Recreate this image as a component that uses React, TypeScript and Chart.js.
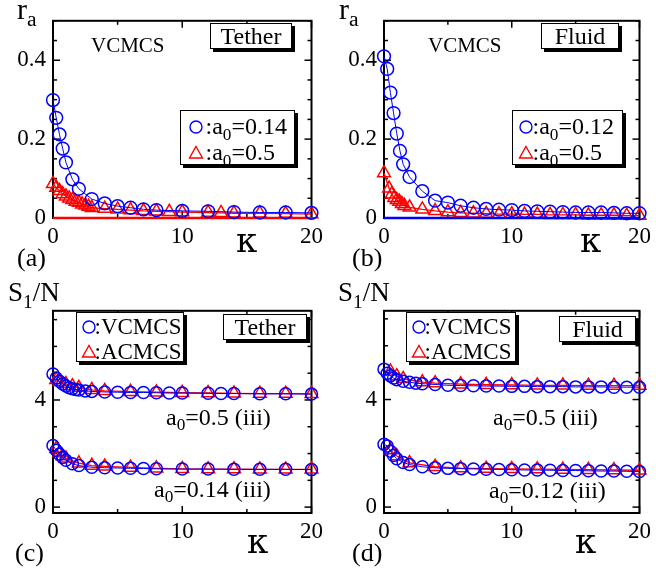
import React, { useEffect, useRef } from "react";
import { Chart, registerables } from "chart.js";

Chart.register(...registerables);

const SERIF = "'Liberation Serif', 'Times New Roman', Times, serif";
const KAPPA_FONT = "'DejaVu Serif', 'Liberation Serif', serif";
const BLUE = "#0000ff";
const RED = "#ff0000";

// tick labels
const kappaLabels = [0, 10, 20];
const raLabels = [0, 0.2, 0.4];
const s1Labels = [0, 4];

// (a) Tether, r_a
const aBlueX = [0, 0.25, 0.5, 0.75, 1, 1.5, 2, 3, 4, 5, 6, 7, 8, 10, 12, 14, 16, 18, 20];
const aBlueY = [0.299, 0.254, 0.212, 0.176, 0.141, 0.098, 0.074, 0.048, 0.037, 0.030, 0.026, 0.022, 0.020, 0.018, 0.017, 0.015, 0.014, 0.014, 0.013];
const aRedX = [0, 0.25, 0.5, 0.75, 1, 1.25, 1.5, 1.75, 2, 2.25, 2.5, 2.75, 3, 4, 5, 6, 7, 8, 9, 10, 12, 13, 14, 16, 18, 20];
const aRedY = [0.087, 0.077, 0.069, 0.061, 0.055, 0.050, 0.046, 0.042, 0.039, 0.035, 0.032, 0.029, 0.026, 0.024, 0.022, 0.020, 0.018, 0.017, 0.016, 0.015, 0.014, 0.013, 0.012, 0.012, 0.011, 0.010];

// (b) Fluid, r_a
const bBlueX = [0, 0.25, 0.5, 0.75, 1, 1.25, 1.5, 2, 3, 4, 5, 6, 7, 8, 9, 10, 11, 12, 13, 14, 15, 16, 17, 18, 19, 20];
const bBlueY = [0.410, 0.378, 0.318, 0.266, 0.214, 0.170, 0.136, 0.104, 0.068, 0.044, 0.039, 0.031, 0.026, 0.023, 0.021, 0.020, 0.018, 0.017, 0.016, 0.015, 0.014, 0.014, 0.014, 0.013, 0.012, 0.012];
const bRedX = [0, 0.4, 0.6, 0.8, 1, 1.2, 1.4, 1.6, 2, 3, 4, 5, 6, 7, 8, 9, 10, 11, 12, 13, 14, 15, 16, 17, 18, 19, 20];
const bRedY = [0.114, 0.075, 0.060, 0.051, 0.046, 0.042, 0.036, 0.031, 0.027, 0.022, 0.018, 0.015, 0.013, 0.012, 0.011, 0.010, 0.010, 0.009, 0.009, 0.008, 0.008, 0.008, 0.007, 0.007, 0.007, 0.006, 0.006];

// zero line of panels (a), (b)
const zeroX = [0, 20];
const zeroY = [0, 0];

// (c) Tether, S1/N
const cUpBlueX = [0, 0.25, 0.5, 0.75, 1, 1.25, 1.5, 1.75, 2, 2.5, 3, 4, 5, 6, 7, 8, 9, 10, 12, 13, 14, 16, 18, 20];
const cUpBlueY = [4.97, 4.82, 4.70, 4.60, 4.52, 4.46, 4.42, 4.39, 4.37, 4.34, 4.32, 4.30, 4.29, 4.28, 4.28, 4.27, 4.26, 4.26, 4.25, 4.24, 4.24, 4.23, 4.23, 4.22];
const cUpRedX = [0.25, 0.5, 1, 1.5, 2, 3, 4, 6, 8, 10, 12, 14, 16, 18, 20];
const cUpRedY = [4.75, 4.68, 4.60, 4.52, 4.46, 4.38, 4.34, 4.31, 4.29, 4.27, 4.26, 4.25, 4.24, 4.24, 4.23];
const cLoBlueX = [0, 0.25, 0.5, 0.75, 1, 1.5, 2, 3, 4, 5, 6, 7, 8, 10, 12, 14, 16, 18, 20];
const cLoBlueY = [2.30, 2.12, 1.97, 1.85, 1.75, 1.62, 1.55, 1.49, 1.47, 1.46, 1.45, 1.44, 1.43, 1.42, 1.42, 1.41, 1.41, 1.41, 1.40];
const cLoRedX = [0.25, 0.5, 0.75, 1, 2, 3, 4, 6, 8, 10, 12, 14, 16, 18, 20];
const cLoRedY = [2.18, 2.03, 1.91, 1.82, 1.64, 1.55, 1.52, 1.48, 1.45, 1.43, 1.42, 1.42, 1.41, 1.41, 1.41];

// (d) Fluid, S1/N
const dUpBlueX = [0, 0.25, 0.5, 0.75, 1, 1.5, 2, 2.5, 3, 4, 5, 6, 7, 8, 9, 10, 11, 12, 13, 14, 15, 16, 17, 18, 19, 20];
const dUpBlueY = [5.13, 4.98, 4.88, 4.80, 4.74, 4.68, 4.64, 4.61, 4.59, 4.56, 4.53, 4.52, 4.51, 4.50, 4.50, 4.49, 4.49, 4.48, 4.48, 4.48, 4.47, 4.47, 4.47, 4.46, 4.46, 4.46];
const dUpRedX = [0.5, 1, 1.5, 3, 4, 6, 8, 10, 12, 14, 16, 18, 20];
const dUpRedY = [5.05, 4.87, 4.77, 4.65, 4.61, 4.57, 4.55, 4.54, 4.53, 4.53, 4.52, 4.52, 4.52];
const dLoBlueX = [0, 0.25, 0.5, 0.75, 1, 1.5, 2, 3, 4, 5, 6, 7, 8, 9, 10, 11, 12, 13, 14, 15, 16, 17, 18, 19, 20];
const dLoBlueY = [2.34, 2.27, 2.08, 1.92, 1.80, 1.66, 1.58, 1.50, 1.46, 1.44, 1.43, 1.42, 1.41, 1.40, 1.39, 1.38, 1.38, 1.37, 1.36, 1.36, 1.35, 1.34, 1.34, 1.33, 1.32];
const dLoRedX = [0.5, 1, 2, 4, 6, 8, 10, 12, 14, 16, 18, 20];
const dLoRedY = [2.12, 1.90, 1.64, 1.50, 1.45, 1.43, 1.42, 1.41, 1.40, 1.39, 1.38, 1.37];

type Series = {
  x: number[];
  y: number[];
  color: string;
  marker: "circle" | "triangle" | "none";
  radius: number;
  lineWidth: number;
};

type Rect = { left: number; top: number; width: number; height: number };
type Area = { left: number; top: number; right: number; bottom: number };

type PanelCfg = {
  canvas: Rect;
  area: Area;
  yMin: number;
  yMax: number;
  yStep: number;
  yLabels: number[];
  series: Series[];
};

const near = (v: number, arr: number[]) => arr.some((a) => Math.abs(a - v) < 1e-6);

const framePlugin = {
  id: "frameTicks",
  beforeDatasetsDraw(chart: any) {
    const { ctx, chartArea: a, scales } = chart;
    ctx.save();
    ctx.strokeStyle = "#000";
    ctx.lineWidth = 1.5;
    const seg = (x1: number, y1: number, x2: number, y2: number) => {
      ctx.beginPath();
      ctx.moveTo(x1, y1);
      ctx.lineTo(x2, y2);
      ctx.stroke();
    };
    const xs = scales.x;
    const ys = scales.y;
    xs.ticks.forEach((t: any) => {
      const p = xs.getPixelForValue(t.value);
      const L = t.label !== "" ? 7 : 4;
      seg(p, a.bottom, p, a.bottom - L);
      seg(p, a.top, p, a.top + L);
    });
    ys.ticks.forEach((t: any) => {
      const p = ys.getPixelForValue(t.value);
      const L = t.label !== "" ? 7 : 4;
      seg(a.left, p, a.left + L, p);
      seg(a.right, p, a.right - L, p);
    });
    ctx.lineWidth = 2;
    ctx.strokeRect(a.left, a.top, a.right - a.left, a.bottom - a.top);
    ctx.restore();
  },
};

function Panel({ cfg }: { cfg: PanelCfg }) {
  const ref = useRef<HTMLCanvasElement | null>(null);
  useEffect(() => {
    const c = cfg.canvas;
    const a = cfg.area;
    const chart = new Chart(ref.current as HTMLCanvasElement, {
      type: "scatter",
      data: {
        datasets: cfg.series.map((s) => ({
          data: s.x.map((x, i) => ({ x, y: s.y[i] })),
          showLine: true,
          borderColor: s.color,
          borderWidth: s.lineWidth,
          pointStyle: s.marker === "none" ? false : s.marker,
          pointRadius: s.marker === "none" ? 0 : s.radius,
          pointBorderColor: s.color,
          pointBackgroundColor: "rgba(0,0,0,0)",
          pointBorderWidth: 1.5,
          clip: false,
          tension: 0,
        })) as any,
      },
      options: {
        animation: false,
        responsive: false,
        maintainAspectRatio: false,
        devicePixelRatio: 1,
        layout: {
          padding: {
            top: a.top - c.top,
            right: c.left + c.width - a.right,
            left: 0,
            bottom: 0,
          },
        },
        plugins: { legend: { display: false }, tooltip: { enabled: false } },
        scales: {
          x: {
            type: "linear",
            position: "bottom",
            min: 0,
            max: 20,
            grid: { display: false, drawTicks: false },
            border: { display: false },
            ticks: {
              stepSize: 5,
              autoSkip: false,
              maxRotation: 0,
              includeBounds: false,
              padding: 5,
              color: "#000",
              font: { family: SERIF, size: 23 },
              callback: (v: any) => (near(Number(v), kappaLabels) ? String(v) : ""),
            },
            afterFit: (s: any) => {
              s.height = c.top + c.height - a.bottom;
            },
          },
          y: {
            type: "linear",
            position: "left",
            min: cfg.yMin,
            max: cfg.yMax,
            grid: { display: false, drawTicks: false },
            border: { display: false },
            ticks: {
              stepSize: cfg.yStep,
              autoSkip: false,
              includeBounds: false,
              padding: 7,
              color: "#000",
              font: { family: SERIF, size: 23 },
              callback: (v: any) => {
                const n = Number(v);
                if (!near(n, cfg.yLabels)) return "";
                return Math.abs(n) < 1e-9 ? "0" : String(Math.round(n * 100) / 100);
              },
            },
            afterFit: (s: any) => {
              s.width = a.left - c.left;
            },
          },
        },
      } as any,
      plugins: [framePlugin],
    });
    return () => chart.destroy();
  }, [cfg]);
  const c = cfg.canvas;
  return (
    <canvas
      ref={ref}
      width={c.width}
      height={c.height}
      style={{ position: "absolute", left: c.left, top: c.top, width: c.width, height: c.height }}
    />
  );
}

const circ = (x: number[], y: number[], r = 6.4): Series => ({ x, y, color: BLUE, marker: "circle", radius: r, lineWidth: 1 });
const tri = (x: number[], y: number[], r = 7.4): Series => ({ x, y, color: RED, marker: "triangle", radius: r, lineWidth: 1.3 });
const zero = (color: string): Series => ({ x: zeroX, y: zeroY, color, marker: "none", radius: 0, lineWidth: 2.5 });

const panelA: PanelCfg = {
  canvas: { left: 0, top: 0, width: 328, height: 290 },
  area: { left: 53, top: 10, right: 315, bottom: 218 },
  yMin: 0, yMax: 0.5, yStep: 0.05, yLabels: raLabels,
  series: [circ(aBlueX, aBlueY), tri(aRedX, aRedY), zero(RED)],
};
const panelB: PanelCfg = {
  canvas: { left: 328, top: 0, width: 328, height: 290 },
  area: { left: 384, top: 10, right: 644, bottom: 218 },
  yMin: 0, yMax: 0.5, yStep: 0.05, yLabels: raLabels,
  series: [zero(BLUE), circ(bBlueX, bBlueY), tri(bRedX, bRedY)],
};
const panelC: PanelCfg = {
  canvas: { left: 0, top: 290, width: 328, height: 289 },
  area: { left: 53, top: 304, right: 315, bottom: 513 },
  yMin: -0.22, yMax: 7.33, yStep: 1, yLabels: s1Labels,
  series: [circ(cUpBlueX, cUpBlueY, 6), circ(cLoBlueX, cLoBlueY, 6), tri(cUpRedX, cUpRedY, 7.4), tri(cLoRedX, cLoRedY, 7.4)],
};
const panelD: PanelCfg = {
  canvas: { left: 328, top: 290, width: 328, height: 289 },
  area: { left: 384, top: 305, right: 644, bottom: 513 },
  yMin: -0.22, yMax: 7.3, yStep: 1, yLabels: s1Labels,
  series: [circ(dUpBlueX, dUpBlueY, 6), circ(dLoBlueX, dLoBlueY, 6), tri(dUpRedX, dUpRedY, 7.4), tri(dLoRedX, dLoRedY, 7.4)],
};

const Sub = ({ children }: { children: React.ReactNode }) => (
  <span style={{ fontSize: "0.72em", position: "relative", top: "0.32em", lineHeight: 0 }}>{children}</span>
);

function Txt({ x, base, size, family, children }: { x: number; base: number; size: number; family?: string; children: React.ReactNode }) {
  return (
    <div
      style={{
        position: "absolute",
        left: x,
        top: base - 0.8375 * size,
        fontSize: size,
        lineHeight: 1,
        fontFamily: family || SERIF,
        whiteSpace: "nowrap",
        color: "#000",
      }}
    >
      {children}
    </div>
  );
}

function Marker({ kind }: { kind: "circle" | "triangle" }) {
  return (
    <svg width={16} height={16} viewBox="0 0 16 16" style={{ display: "block" }}>
      {kind === "circle" ? (
        <circle cx={8} cy={8} r={6} fill="none" stroke={BLUE} strokeWidth={1.4} />
      ) : (
        <polygon points="8,1.5 14.5,13 1.5,13" fill="none" stroke={RED} strokeWidth={1.4} />
      )}
    </svg>
  );
}

function Box({ left, top, width, height, size, children }: { left: number; top: number; width: number; height: number; size: number; children: React.ReactNode }) {
  return (
    <div
      style={{
        position: "absolute",
        left,
        top,
        width,
        height,
        boxSizing: "border-box",
        border: "1.5px solid #000",
        boxShadow: "3px 3px 0 #000",
        background: "#fff",
        fontFamily: SERIF,
        fontSize: size,
        display: "flex",
        alignItems: "center",
        justifyContent: "center",
        lineHeight: 1,
      }}
    >
      {children}
    </div>
  );
}

type Row = { kind: "circle" | "triangle"; cy: number; content: React.ReactNode };
function Legend({ left, top, width, height, iconX, textX, size, rows }: { left: number; top: number; width: number; height: number; iconX: number; textX: number; size: number; rows: Row[] }) {
  return (
    <div
      style={{
        position: "absolute",
        left,
        top,
        width,
        height,
        boxSizing: "border-box",
        border: "1.5px solid #000",
        boxShadow: "3px 3px 0 #000",
        background: "#fff",
        fontFamily: SERIF,
      }}
    >
      {rows.map((r, i) => (
        <React.Fragment key={i}>
          <div style={{ position: "absolute", left: iconX - 8 - 1.5, top: r.cy - 8 - 1.5 }}>
            <Marker kind={r.kind} />
          </div>
          <div
            style={{
              position: "absolute",
              left: textX - 1.5,
              top: r.cy - 1.5 - 0.8375 * size + 0.33 * size,
              fontSize: size,
              lineHeight: 1,
              whiteSpace: "nowrap",
            }}
          >
            {r.content}
          </div>
        </React.Fragment>
      ))}
    </div>
  );
}

export default function App() {
  return (
    <div style={{ position: "absolute", left: 0, top: 0, width: 656, height: 579, background: "#fff", overflow: "hidden" }}>
      <Panel cfg={panelA} />
      <Panel cfg={panelB} />
      <Panel cfg={panelC} />
      <Panel cfg={panelD} />

      {/* (a) */}
      <Txt x={17} base={19} size={30}>r<Sub>a</Sub></Txt>
      <Txt x={91} base={53} size={21}>VCMCS</Txt>
      <Box left={210} top={23} width={82} height={26} size={24}>Tether</Box>
      <Legend
        left={180} top={110} width={115} height={55} iconX={16} textX={26} size={24}
        rows={[
          { kind: "circle", cy: 17, content: <>:a<Sub>0</Sub>=0.14</> },
          { kind: "triangle", cy: 43, content: <>:a<Sub>0</Sub>=0.5</> },
        ]}
      />
      <Txt x={236} base={251} size={34} family={KAPPA_FONT}>κ</Txt>
      <Txt x={17} base={267} size={26}>(a)</Txt>

      {/* (b) */}
      <Txt x={339} base={19} size={30}>r<Sub>a</Sub></Txt>
      <Txt x={428} base={53} size={21}>VCMCS</Txt>
      <Box left={541} top={23} width={78} height={26} size={24}>Fluid</Box>
      <Legend
        left={512} top={110} width={111} height={55} iconX={14} textX={21} size={24}
        rows={[
          { kind: "circle", cy: 17, content: <>:a<Sub>0</Sub>=0.12</> },
          { kind: "triangle", cy: 43, content: <>:a<Sub>0</Sub>=0.5</> },
        ]}
      />
      <Txt x={580} base={251} size={34} family={KAPPA_FONT}>κ</Txt>
      <Txt x={352} base={267} size={26}>(b)</Txt>

      {/* (c) */}
      <Txt x={8} base={302} size={27}>S<Sub>1</Sub>/N</Txt>
      <Legend
        left={76} top={312} width={108} height={50} iconX={13} textX={19} size={23}
        rows={[
          { kind: "circle", cy: 15, content: <>:VCMCS</> },
          { kind: "triangle", cy: 40, content: <>:ACMCS</> },
        ]}
      />
      <Box left={223} top={314} width={84} height={26} size={24}>Tether</Box>
      <Txt x={166} base={425} size={24}>a<Sub>0</Sub>=0.5 (iii)</Txt>
      <Txt x={154} base={497} size={24}>a<Sub>0</Sub>=0.14 (iii)</Txt>
      <Txt x={247} base={552} size={34} family={KAPPA_FONT}>κ</Txt>
      <Txt x={15} base={562} size={26}>(c)</Txt>

      {/* (d) */}
      <Txt x={338} base={302} size={27}>S<Sub>1</Sub>/N</Txt>
      <Legend
        left={406} top={312} width={110} height={50} iconX={13} textX={19} size={23}
        rows={[
          { kind: "circle", cy: 15, content: <>:VCMCS</> },
          { kind: "triangle", cy: 40, content: <>:ACMCS</> },
        ]}
      />
      <Box left={559} top={316} width={77} height={26} size={24}>Fluid</Box>
      <Txt x={493} base={425} size={24}>a<Sub>0</Sub>=0.5 (iii)</Txt>
      <Txt x={489} base={498} size={24}>a<Sub>0</Sub>=0.12 (iii)</Txt>
      <Txt x={575} base={552} size={34} family={KAPPA_FONT}>κ</Txt>
      <Txt x={352} base={562} size={26}>(d)</Txt>
    </div>
  );
}
